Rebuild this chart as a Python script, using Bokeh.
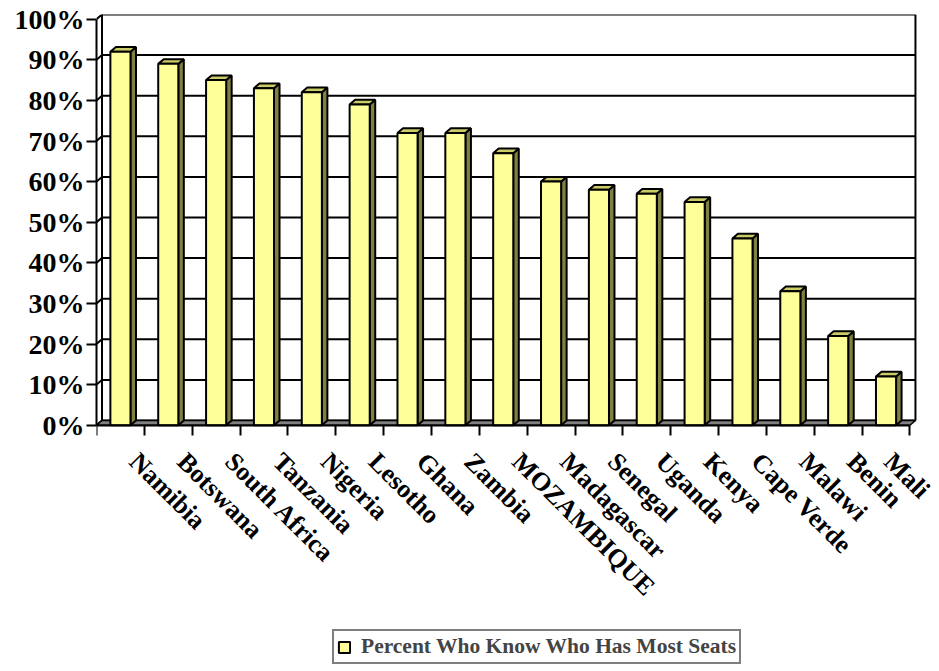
import math
from bokeh.plotting import figure
from bokeh.models import FixedTicker, PrintfTickFormatter, Legend, LegendItem
from bokeh.embed import file_html
from bokeh.resources import INLINE

countries = ["Namibia", "Botswana", "South Africa", "Tanzania", "Nigeria", "Lesotho",
             "Ghana", "Zambia", "MOZAMBIQUE", "Madagascar", "Senegal", "Uganda",
             "Kenya", "Cape Verde", "Malawi", "Benin", "Mali"]
percent_know = [92, 89, 85, 83, 82, 79, 72, 72, 67, 60, 58, 57, 55, 46, 33, 22, 12]
y_ticks = [0, 10, 20, 30, 40, 50, 60, 70, 80, 90, 100]
series_name = "Percent Who Know Who Has Most Seats"

n = len(countries)
DX = 0.115   # 3-D depth offset (category units)
DY = 1.16    # 3-D depth offset (percent units)
W = 0.42     # bar width (category units)
LABEL_SHIFT = 0.28
FONT = "Liberation Serif"

FIG_W, FIG_H = 935, 665
LEFT, TOP = 96, 14
PX_PER_CAT = 47.85
PX_PER_PCT = 4.06
x_high = (FIG_W - LEFT) / PX_PER_CAT
y_low = (100 + DY) - (FIG_H - TOP) / PX_PER_PCT

p = figure(width=FIG_W, height=FIG_H, x_range=(0, x_high), y_range=(y_low, 100 + DY),
           output_backend="svg", toolbar_location=None,
           min_border_left=LEFT, min_border_top=TOP, min_border_right=0, min_border_bottom=0)
p.outline_line_color = None
p.xgrid.visible = False
p.ygrid.visible = False

# back wall gridlines
p.segment(x0=[DX] * len(y_ticks), x1=[n + DX] * len(y_ticks),
          y0=[t + DY for t in y_ticks], y1=[t + DY for t in y_ticks],
          line_color="black", line_width=2)
# back wall edges
p.segment(x0=[DX, n + DX], x1=[DX, n + DX], y0=[DY, DY], y1=[100 + DY, 100 + DY],
          line_color="black", line_width=2)
# left wall diagonals
p.segment(x0=[0] * len(y_ticks), x1=[DX] * len(y_ticks),
          y0=y_ticks, y1=[t + DY for t in y_ticks], line_color="black", line_width=2)
# floor
p.patch(x=[0, n, n + DX, DX], y=[0, 0, DY, DY], fill_color="#808080",
        line_color="black", line_width=1.5)

centers = [i + 0.5 for i in range(n)]
lefts = [c - W / 2 for c in centers]
rights = [c + W / 2 for c in centers]

side_xs = [[r, r, r + DX, r + DX] for r in rights]
side_ys = [[0, v, v + DY, DY] for v in percent_know]
top_xs = [[l, r, r + DX, l + DX] for l, r in zip(lefts, rights)]
top_ys = [[v, v, v + DY, v + DY] for v in percent_know]

p.patches(xs=side_xs, ys=side_ys, fill_color="#808040", line_color="black", line_width=2)
p.patches(xs=top_xs, ys=top_ys, fill_color="#CCCC66", line_color="black", line_width=2)
front = p.quad(left=lefts, right=rights, bottom=[0] * n, top=percent_know,
               fill_color="#FFFF99", line_color="black", line_width=2)

# y axis
ya = p.yaxis[0]
ya.ticker = FixedTicker(ticks=y_ticks)
ya.formatter = PrintfTickFormatter(format="%d%%")
ya.bounds = (0, 100)
ya.axis_line_width = 2
ya.major_tick_line_width = 2
ya.major_tick_out = 10
ya.major_tick_in = 0
ya.minor_tick_line_color = None
ya.major_label_text_font = FONT
ya.major_label_text_font_style = "bold"
ya.major_label_text_font_size = "28px"
ya.major_label_text_color = "black"
ya.major_label_standoff = 2

# x axis, fixed at 0 %
label_pos = [c + LABEL_SHIFT for c in centers]
xa = p.xaxis[0]
xa.fixed_location = 0
xa.ticker = FixedTicker(ticks=label_pos, minor_ticks=list(range(n + 1)))
xa.major_label_overrides = {c: name for c, name in zip(label_pos, countries)}
xa.bounds = (0, n)
xa.axis_line_width = 2
xa.major_tick_line_color = None
xa.major_tick_out = 0
xa.major_tick_in = 0
xa.minor_tick_line_width = 2
xa.minor_tick_out = 10
xa.minor_tick_in = 0
xa.major_label_orientation = -math.pi / 4
xa.major_label_text_font = FONT
xa.major_label_text_font_style = "bold"
xa.major_label_text_font_size = "26px"
xa.major_label_text_color = "black"
xa.major_label_standoff = 22

legend = Legend(items=[LegendItem(label=series_name, renderers=[front])],
                location=(236, 1))
legend.border_line_color = "black"
legend.border_line_width = 2
legend.label_text_font = FONT
legend.label_text_font_style = "bold"
legend.label_text_font_size = "21.5px"
legend.glyph_width = 14
legend.glyph_height = 14
legend.padding = 3
legend.margin = 0
legend.label_standoff = 10
legend.label_height = 20
legend.background_fill_alpha = 1
p.add_layout(legend)

open("out.html", "w").write(file_html(p, INLINE))
